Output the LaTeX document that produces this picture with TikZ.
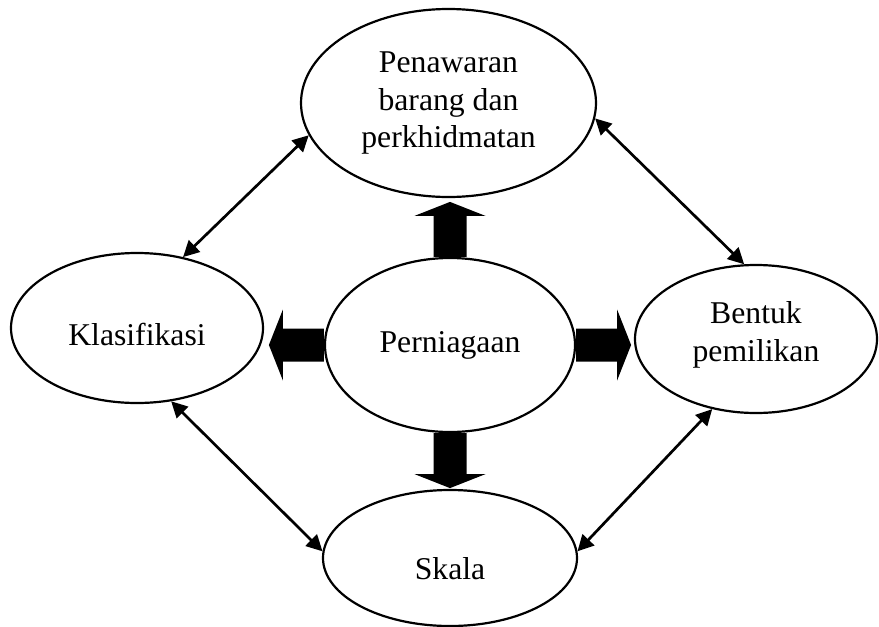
\documentclass[tikz,border=0pt]{standalone}
\usepackage{fontspec}
\setmainfont{Liberation Serif}
\usetikzlibrary{shapes.geometric,arrows.meta}
\begin{document}
\begin{tikzpicture}[x=1pt,y=-1pt,
  oval/.style={ellipse, draw, line width=2.2pt, inner sep=0pt,
    font=\fontsize{31.7}{37.5}\selectfont, align=center},
  lbl/.style={font=\fontsize{31.7}{37.5}\selectfont, align=center, inner sep=0pt},
  link/.style={line width=2.7pt,
    {Triangle[length=16pt,width=16pt]}-{Triangle[length=16pt,width=16pt]}},
  blockarrow/.pic={\fill[black] (0,-16.5) -- (41,-16.5) -- (41,-35.5) -- (55,0)
    -- (41,35.5) -- (41,16.5) -- (0,16.5) -- cycle;}
]
\useasboundingbox (0,0) rectangle (879,627);

\node[oval, minimum width=295pt, minimum height=188pt] (top) at (448.5,103)
  {Penawaran\\barang dan\\perkhidmatan};
\node[oval, minimum width=250pt, minimum height=174pt] (mid) at (450,345)
  {Perniagaan};
\node[oval, minimum width=252pt, minimum height=150pt,
  label={[lbl, name=lefttext, yshift=-6pt]center:Klasifikasi}] (left) at (137,328) {};
\node[oval, minimum width=242pt, minimum height=148pt,
  label={[lbl, name=righttext, yshift=4pt]center:{Bentuk\\pemilikan}}] (right) at (756,339) {};
\node[oval, minimum width=254pt, minimum height=136pt,
  label={[lbl, name=bottext, yshift=-11pt]center:Skala}] (bot) at (450,558) {};

% block arrows from the centre
\pic at (mid.east) {blockarrow};
\pic[rotate=90] at (mid.north) {blockarrow};
\pic[rotate=180] at (mid.west) {blockarrow};
\pic[rotate=270] at (mid.south) {blockarrow};

% thin double-headed connectors
\draw[link] (left.57) -- (top.193);
\draw[link] (top.354.5) -- (right.99);
\draw[link] (left.295) -- (bot.177);
\draw[link] (bot.3.7) -- (right.238);
\end{tikzpicture}
\end{document}
